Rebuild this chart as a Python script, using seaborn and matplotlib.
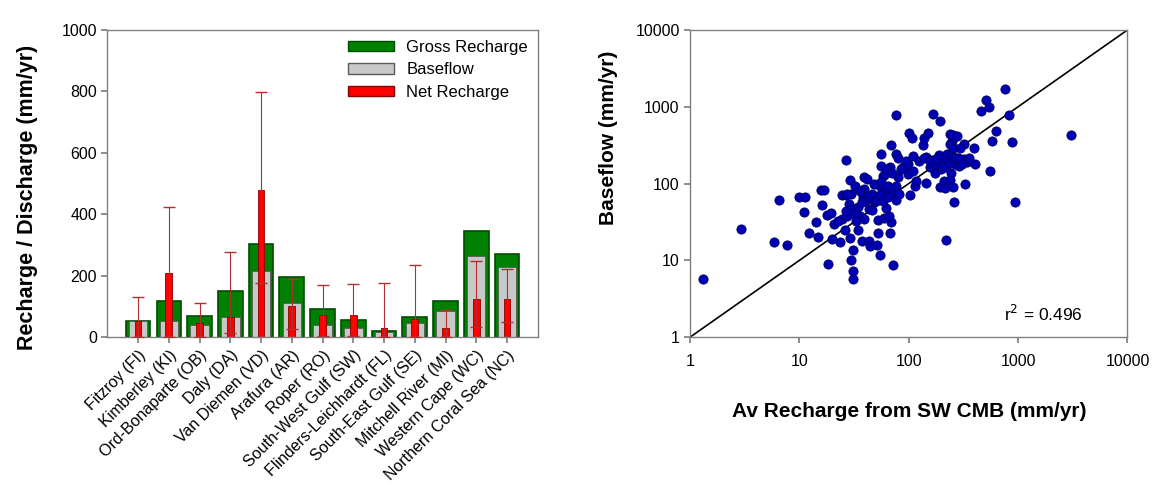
import numpy as np
import pandas as pd
import matplotlib.pyplot as plt
import seaborn as sns
from matplotlib.patches import Patch

# Regional recharge / discharge values (mm/yr)
regions = ['Fitzroy (FI)', 'Kimberley (KI)', 'Ord-Bonaparte (OB)', 'Daly (DA)',
           'Van Diemen (VD)', 'Arafura (AR)', 'Roper (RO)', 'South-West Gulf (SW)',
           'Flinders-Leichhardt (FL)', 'South-East Gulf (SE)', 'Mitchell River (MI)',
           'Western Cape (WC)', 'Northern Coral Sea (NC)']
gross = [54, 119, 69, 151, 304, 196, 93, 55, 20, 67, 119, 344, 271]
baseflow = [53, 54, 40, 64, 215, 112, 38, 29, 16, 47, 86, 265, 229]
net = [51, 209, 47, 64, 480, 101, 72, 72, 31, 59, 29, 124, 124]
net_hi = [132, 423, 110, 277, 798, 190, 169, 172, 177, 236, 87, 247, 222]
net_lo = [2, 2, 2, 15, 177, 28, 4, 4, 2, 2, 2, 33, 50]

# Baseflow vs av recharge from SW CMB (mm/yr)
recharge = [1.3, 2.94, 5.87, 7.64, 6.48, 9.95, 11.3, 11.0, 12.3, 14.7,
            14.1, 15.6, 16.8, 16.1, 17.9, 19.6, 18.1, 19.8, 20.8, 23.6,
            24.5, 26.5, 26.5, 24.5, 26, 29, 29.6, 28.5, 30, 27.5,
            29, 29.6, 30.6, 30.6, 31, 32, 34.5, 35.8, 34, 37,
            39, 41.5, 39, 38, 39, 43, 43, 44, 46.5, 48.5,
            46, 50.8, 52, 54, 56, 56, 58, 56, 60.6, 52,
            55, 59, 62, 64, 67, 69, 67, 69, 71, 70,
            66, 77, 77, 76, 80, 80, 88, 94, 99, 101,
            106, 103, 110, 113, 116, 134, 137, 144, 144, 149,
            155, 167, 162, 174, 181, 195, 188, 199, 195, 210,
            215, 226, 226, 218, 238, 250, 256, 243, 243, 240,
            258, 263, 277, 282, 290, 318, 323, 330, 343, 398,
            406, 457, 509, 536, 559, 572, 624, 757, 817, 873,
            932, 3050, 35.8, 41.5, 50, 54, 58, 65, 48.5, 60.6,
            63, 70, 85, 95, 124, 139, 155, 174, 185, 203,
            218, 236, 253, 271, 293, 305, 357, 236, 253, 293,
            253, 181, 40, 26.5, 32, 33, 37, 22.5, 27.5, 99,
            110, 76, 82]
baseflow_pts = [5.8, 25.5, 17.5, 16, 61.8, 67, 67, 43, 22.6, 20,
                31.4, 82, 82, 53, 39, 41, 8.9, 18.7, 29.3, 17.3,
                71.7, 201, 70, 34.7, 25, 111, 74, 54, 46.5, 38,
                19.7, 10.2, 7.3, 5.7, 13.5, 93, 49, 38, 24.5, 17.8,
                122, 114, 85, 66, 34.7, 46.5, 17.8, 15.4, 73, 60,
                45.5, 15.7, 23, 93, 240, 167, 126, 106, 77, 33.7,
                11.9, 36, 48, 93, 162, 318, 23, 31.5, 8.6, 73,
                38, 61, 770, 240, 122, 218, 166, 157, 178, 449,
                394, 70, 227, 93, 108, 318, 394, 103, 223, 460,
                166, 810, 201, 139, 178, 650, 236, 153, 89, 108,
                87, 196, 240, 18.6, 436, 360, 428, 240, 139, 112,
                58, 178, 410, 218, 170, 324, 207, 100, 188, 292,
                182, 870, 1230, 990, 144, 360, 483, 1720, 790, 349,
                57.5, 428, 81, 66, 60, 70, 60, 66, 98, 133,
                154, 139, 154, 197, 197, 218, 197, 178, 197, 170,
                162, 188, 218, 218, 207, 178, 218, 324, 292, 292,
                89, 218, 60, 44, 40, 33, 57, 33, 73, 133,
                147, 93, 73]

sns.set_theme(style="ticks")
plt.rcParams['font.family'] = ['Liberation Sans', 'DejaVu Sans']
plt.rcParams['text.color'] = 'black'
plt.rcParams['axes.labelcolor'] = 'black'

fig = plt.figure(figsize=(11.54, 4.83), dpi=100)
ax1 = fig.add_axes([0.093, 0.302, 0.373, 0.636])
ax2 = fig.add_axes([0.598, 0.302, 0.379, 0.636])

# Left: overlaid bars
sns.barplot(x=regions, y=gross, width=0.8, color='#008000', saturation=1,
            edgecolor='#004d00', linewidth=1.2, ax=ax1)
sns.barplot(x=regions, y=baseflow, width=0.6, color='#c8c8c8', saturation=1,
            edgecolor='#5a5a5a', linewidth=0.6, ax=ax1)
sns.barplot(x=regions, y=net, width=0.22, color='#ff0000', saturation=1,
            edgecolor='#8b0000', linewidth=0.6, ax=ax1)
pos = np.arange(len(regions))
net_arr = np.array(net)
yerr = [net_arr - np.array(net_lo), np.array(net_hi) - net_arr]
ax1.errorbar(pos, net_arr, yerr=yerr, fmt='none', ecolor='#b03030',
             elinewidth=0.8, capsize=4, capthick=1.0, zorder=5)

ax1.set_xlim(-1, 13)
ax1.set_ylim(0, 1000)
ax1.set_yticks([0, 200, 400, 600, 800, 1000])
ax1.set_xticks(pos)
ax1.set_xticklabels(regions, rotation=45, ha='right', rotation_mode='anchor',
                    fontsize=11.5)
ax1.tick_params(axis='y', labelsize=11.5, length=4, color='#808080',
                labelcolor='black')
ax1.tick_params(axis='x', length=4, color='#808080', labelcolor='black')
ax1.set_xlabel('')
ax1.set_ylabel('Recharge / Discharge (mm/yr)', fontsize=15.5, fontweight='bold')
ax1.yaxis.set_label_coords(-0.16, 0.455)
for sp in ax1.spines.values():
    sp.set_visible(True)
    sp.set_color('#808080')
    sp.set_linewidth(1.0)

handles = [Patch(facecolor='#008000', edgecolor='#004d00', label='Gross Recharge'),
           Patch(facecolor='#c8c8c8', edgecolor='#5a5a5a', label='Baseflow'),
           Patch(facecolor='#ff0000', edgecolor='#8b0000', label='Net Recharge')]
ax1.legend(handles=handles, loc='upper right', frameon=False, fontsize=12,
           handlelength=2.8, handleheight=0.6, labelspacing=0.45,
           borderaxespad=0.2, handletextpad=0.7)

# Right: log-log scatter with 1:1 line
pts = pd.DataFrame({'recharge': recharge, 'baseflow': baseflow_pts})
sns.scatterplot(data=pts, x='recharge', y='baseflow', color='#0000b4',
                edgecolor='#000060', linewidth=0.6, s=44, ax=ax2, zorder=3)
ax2.plot([1, 10000], [1, 10000], color='black', linewidth=1.2, zorder=2)
ax2.set_xscale('log')
ax2.set_yscale('log')
ax2.set_xlim(1, 10000)
ax2.set_ylim(1, 10000)
decades = [1, 10, 100, 1000, 10000]
ax2.set_xticks(decades)
ax2.set_xticklabels([str(d) for d in decades])
ax2.set_yticks(decades)
ax2.set_yticklabels([str(d) for d in decades])
ax2.minorticks_off()
ax2.tick_params(labelsize=11.5, length=4, color='#808080', labelcolor='black')
ax2.tick_params(axis='x', pad=8)
ax2.set_xlabel('Av Recharge from SW CMB (mm/yr)', fontsize=15,
               fontweight='bold', labelpad=24)
ax2.set_ylabel('Baseflow (mm/yr)', fontsize=15, fontweight='bold')
ax2.yaxis.set_label_coords(-0.165, 0.65)
ax2.text(750, 2.0, r'r$^2$ = 0.496', fontsize=12.5, va='center', ha='left')
for sp in ax2.spines.values():
    sp.set_visible(True)
    sp.set_color('#808080')
    sp.set_linewidth(1.0)

fig.savefig('out.png', dpi=100)
